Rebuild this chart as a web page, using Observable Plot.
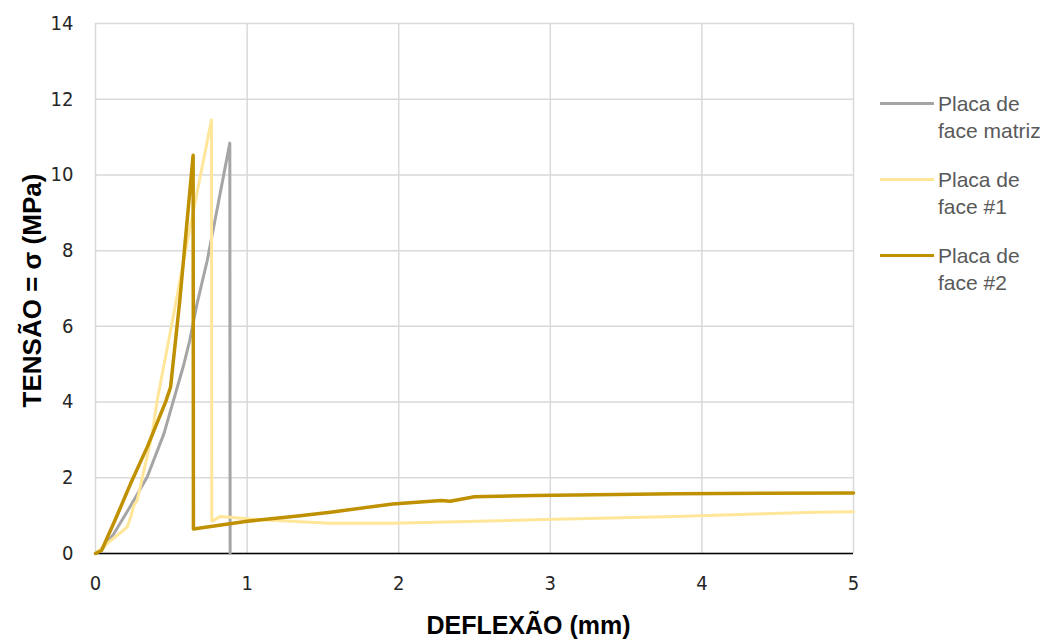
<!DOCTYPE html>
<html><head><meta charset="utf-8">
<script src="https://cdn.jsdelivr.net/npm/d3@7"></script>
<script src="https://cdn.jsdelivr.net/npm/@observablehq/plot@0.6"></script>
<style>
body{margin:0;background:#fff;}
#wrap{position:relative;width:1057px;height:641px;}
.item{position:absolute;left:880px;font-family:"Liberation Sans",Arial,sans-serif;font-size:21px;line-height:27px;color:#595959;}
.item .sw{position:absolute;left:0;top:12px;width:54px;height:3px;}
.item .tx{position:absolute;left:58px;top:0;white-space:nowrap;}
</style></head><body><div id="wrap"></div>
<script>
const seriesNames = ["Placa de face matriz", "Placa de face #1", "Placa de face #2"];
const seriesColors = ["#a5a5a5", "#ffe699", "#bf9000"];
const xTicks = [0, 1, 2, 3, 4, 5];
const yTicks = [0, 2, 4, 6, 8, 10, 12, 14];

const matrizX = [0, 0.05, 0.121, 0.226, 0.341, 0.451, 0.583, 0.62, 0.67, 0.737, 0.813, 0.886, 0.888];
const matrizY = [0, 0.15, 0.52, 1.22, 2.02, 3.16, 5.0, 5.6, 6.6, 7.74, 9.32, 10.84, 0];

const face1X = [0, 0.077, 0.209, 0.235, 0.253, 0.275, 0.374, 0.407, 0.51, 0.594, 0.765, 0.767, 0.825, 1.09, 1.55, 1.96, 2.89, 3.83, 4.76, 5];
const face1Y = [0, 0.26, 0.70, 1.0, 1.27, 1.40, 3.16, 4.04, 6.2, 8.0, 11.45, 0.85, 0.98, 0.89, 0.80, 0.80, 0.89, 0.98, 1.09, 1.1];

const face2X = [0, 0.04, 0.13, 0.231, 0.341, 0.462, 0.495, 0.556, 0.644, 0.646, 1.0, 1.35, 1.55, 1.96, 2.28, 2.34, 2.5, 2.9, 3.83, 5];
const face2Y = [0, 0.08, 0.89, 1.84, 2.81, 4.0, 4.39, 6.68, 10.52, 0.65, 0.85, 1.0, 1.09, 1.31, 1.40, 1.38, 1.5, 1.53, 1.58, 1.6];

const toRows = (xs, ys) => xs.map((x, i) => ({x, y: ys[i]}));
const matriz = toRows(matrizX, matrizY);
const face1 = toRows(face1X, face1Y);
const face2 = toRows(face2X, face2Y);

const tickFont = "'Liberation Sans Narrow', 'Arial Narrow', 'DejaVu Sans Condensed', sans-serif";

const plot = Plot.plot({
  width: 1057, height: 641,
  marginLeft: 95, marginRight: 204, marginTop: 23, marginBottom: 88,
  x: {domain: [0, 5]},
  y: {domain: [0, 14]},
  style: {fontFamily: "'Liberation Sans', Arial, sans-serif", fontSize: "20px", color: "#262626", background: "#fff"},
  marks: [
    Plot.gridX(xTicks, {stroke: "#d9d9d9", strokeOpacity: 1, strokeWidth: 1.5}),
    Plot.gridY(yTicks, {stroke: "#d9d9d9", strokeOpacity: 1, strokeWidth: 1.5}),
    Plot.axisX(xTicks, {tickSize: 0, tickPadding: 22, label: null, fontSize: 20, fontFamily: tickFont, fill: "#262626", tickFormat: d3.format("d")}),
    Plot.axisY(yTicks, {tickSize: 0, tickPadding: 22, label: null, fontSize: 20, fontFamily: tickFont, fill: "#262626", tickFormat: d3.format("d")}),
    Plot.ruleY([0], {stroke: "#000", strokeWidth: 1.5}),
    Plot.line(matriz, {x: "x", y: "y", stroke: seriesColors[0], strokeWidth: 3, curve: "linear"}),
    Plot.line(face1, {x: "x", y: "y", stroke: seriesColors[1], strokeWidth: 3, curve: "linear"}),
    Plot.line(face2, {x: "x", y: "y", stroke: seriesColors[2], strokeWidth: 3.5, curve: "linear"}),
    Plot.text(["DEFLEXÃO (mm)"], {frameAnchor: "bottom", dx: 54, dy: 72, lineAnchor: "middle", textAnchor: "middle", fontWeight: "bold", fontSize: 25, fill: "#000"}),
    Plot.text(["TENSÃO = σ (MPa)"], {frameAnchor: "left", dx: -63, dy: 2, rotate: -90, textAnchor: "middle", lineAnchor: "middle", fontWeight: "bold", fontSize: 26, fill: "#000"})
  ]
});
const wrap = document.getElementById("wrap");
wrap.appendChild(plot);

const legendLines = [["Placa de", "face matriz"], ["Placa de", "face #1"], ["Placa de", "face #2"]];
const legendTops = [90, 166, 242];
seriesNames.forEach((name, i) => {
  const d = document.createElement("div");
  d.className = "item";
  d.style.top = legendTops[i] + "px";
  d.setAttribute("title", name);
  const sw = document.createElement("div");
  sw.className = "sw";
  sw.style.background = seriesColors[i];
  const tx = document.createElement("div");
  tx.className = "tx";
  tx.innerHTML = legendLines[i].join("<br>");
  d.appendChild(sw); d.appendChild(tx);
  wrap.appendChild(d);
});
</script>
</body></html>
